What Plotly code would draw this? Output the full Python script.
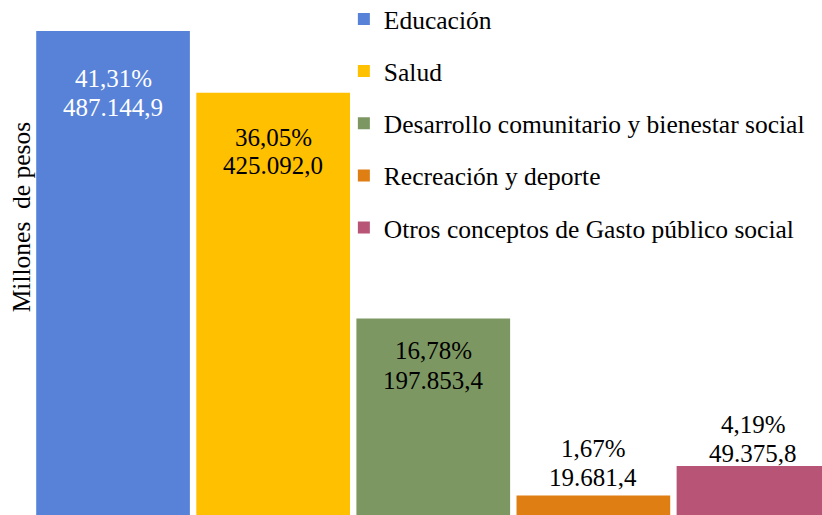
import plotly.graph_objects as go

categories = [
    "Educación",
    "Salud",
    "Desarrollo comunitario y bienestar social",
    "Recreación y deporte",
    "Otros conceptos de Gasto público social",
]
values = [487144.9, 425092.0, 197853.4, 19681.4, 49375.8]
pct_labels = ["41,31%", "36,05%", "16,78%", "1,67%", "4,19%"]
value_labels = ["487.144,9", "425.092,0", "197.853,4", "19.681,4", "49.375,8"]

colors = ["#5882D8", "#FFC000", "#7D9763", "#DF7E12", "#B85475"]
label_colors = ["white", "black", "black", "black", "black"]
# label offsets (px) from bar top, per line
pct_shift = [-47, -45, -32, 47, 41]
val_shift = [-76, -73, -62, 18, 12]

FONT = "'Liberation Serif', 'Times New Roman', 'DejaVu Serif', serif"
LABEL_SIZE = 25

fig = go.Figure()

for i, cat in enumerate(categories):
    fig.add_trace(
        go.Bar(
            x=[cat],
            y=[values[i]],
            name=cat,
            width=0.96,
            marker=dict(color=colors[i], line=dict(width=0)),
            legendgroup=cat,
            hoverinfo="skip",
        )
    )
    for text, shift in ((pct_labels[i], pct_shift[i]), (value_labels[i], val_shift[i])):
        fig.add_annotation(
            x=cat,
            y=values[i],
            text=text,
            showarrow=False,
            yanchor="middle",
            yshift=shift,
            font=dict(family=FONT, size=LABEL_SIZE, color=label_colors[i]),
        )

# y axis title as rotated annotation
fig.add_annotation(
    xref="paper",
    yref="paper",
    x=0,
    y=0.578,
    xanchor="center",
    xshift=-12,
    text="Millones&nbsp; de pesos",
    textangle=-90,
    showarrow=False,
    font=dict(family=FONT, size=25.5, color="black"),
)

fig.update_layout(
    width=822,
    height=515,
    margin=dict(l=33, r=0, t=0, b=0, autoexpand=False),
    barmode="overlay",
    plot_bgcolor="white",
    paper_bgcolor="white",
    font=dict(family=FONT, size=25.5, color="black"),
    showlegend=True,
    legend=dict(
        x=0.394,
        y=1.008,
        xanchor="left",
        yanchor="top",
        bgcolor="rgba(0,0,0,0)",
        itemwidth=30,
        tracegroupgap=16,
        font=dict(family=FONT, size=25.5, color="black"),
    ),
    xaxis=dict(visible=False, range=[-0.5, 4.428]),
    yaxis=dict(visible=False, range=[0, 518350]),
)

fig.write_html(
    "out.html",
    config={"displayModeBar": False},
    post_script="document.body.style.margin='0';document.body.style.overflow='hidden';",
)
